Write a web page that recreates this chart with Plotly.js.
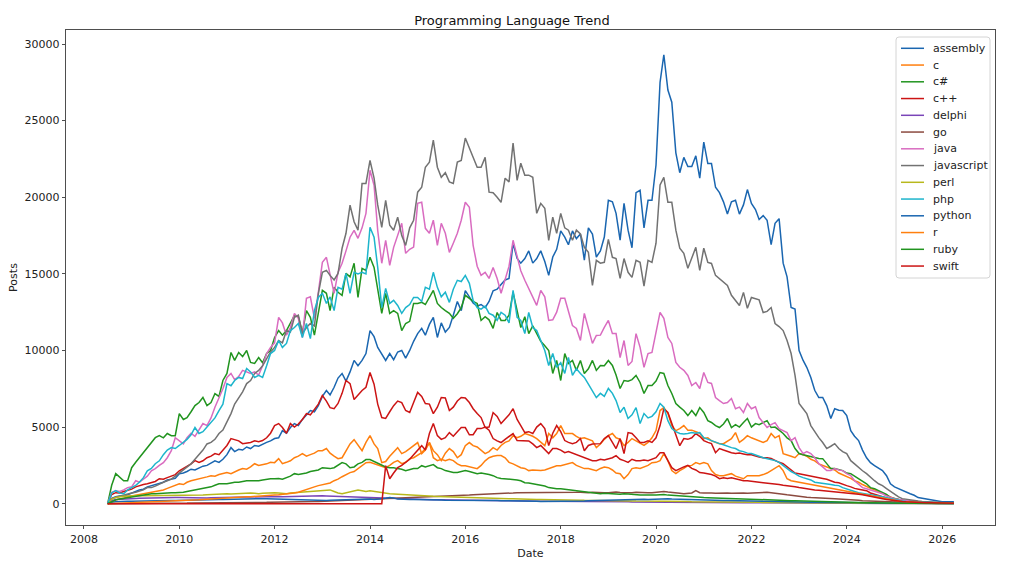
<!DOCTYPE html>
<html>
<head>
<meta charset="utf-8">
<script src="https://cdn.plot.ly/plotly-3.0.1.min.js"></script>
<style>
  html, body { margin: 0; padding: 0; background: #fff; }
  #chart { width: 1024px; height: 574px; }
</style>
</head>
<body>
<div id="chart"></div>
<script>
// monthly posts, Jul 2008 .. Apr 2026 (one line per year)
const languages = ['assembly', 'c', 'c#', 'c++', 'delphi', 'go', 'java', 'javascript',
                   'perl', 'php', 'python', 'r', 'ruby', 'swift'];

const assembly = [
  0, 350, 450, 500, 480, 600,
  700, 800, 900, 950, 1100, 1180, 1250, 1300, 1400, 1550, 1600, 1650,
  1960, 2000, 2100, 2250, 2200, 2350, 2450, 2500, 2650, 2800, 2700, 2900,
  3200, 3660, 3400, 3550, 3500, 3700, 3600, 3800, 3750, 3900, 4000, 4100,
  4250, 4300, 4770, 4600, 4970, 5230, 5100, 5500, 5800, 6080, 6000, 6400,
  7000, 7390, 7100, 7600, 8200, 8500, 8000, 8600, 9350, 9000, 9350, 9800,
  11300, 10900, 10200, 9800, 9350, 9800, 9400, 9900, 10000, 9500, 10000, 10600,
  11100, 11440, 11000, 11700, 12160, 10850, 11800, 11200, 11500, 12300, 13200, 12600,
  13900, 13500, 13100, 12900, 13000, 12800, 13200, 13900, 14000, 14300, 14600, 14700,
  17000, 16000, 15700, 16000, 16500, 15700, 16000, 16500, 15800, 14900, 16100, 16600,
  17800, 17400, 16900, 17800, 17300, 17600, 15900, 18000, 17600, 16100, 16500, 17400,
  19800, 19700, 18950, 17200, 19600, 17850, 16700, 20300, 20450, 18000, 19800, 19800,
  22100, 27500, 29300, 27000, 26200, 22900, 21600, 22600, 22000, 22000, 22700, 21250,
  23600, 22200, 22200, 20650, 20300, 19700, 18900, 19700, 19800, 18900, 19500, 20500,
  19600, 19200, 18550, 18800, 18500, 16900, 18300, 18600, 15700, 14800, 12800, 12700,
  10000, 9350, 8900, 8240, 7400, 6930, 6930, 6400, 5560, 6200, 6100, 6080,
  5750, 4770, 4400, 4120, 3500, 3000, 2680, 2480, 2300, 2160, 1830, 1300,
  1100, 980, 850, 720, 650, 550, 400, 350, 300, 260, 200, 150,
  130, 130, 120, 130
];

const c = [
  0, 150, 250, 300, 350, 450,
  500, 550, 600, 650, 700, 720, 800, 850, 900, 1000, 1100, 1200,
  1300, 1250, 1400, 1500, 1550, 1630, 1700, 1750, 1830, 1800, 1900, 1950,
  2030, 1960, 2100, 2200, 2300, 2250, 2400, 2610, 2500, 2550, 2600, 2700,
  2680, 2940, 2610, 2700, 2800, 3000, 3100, 3270, 3100, 3200, 3300, 3460,
  3460, 3600, 3300, 3100, 2940, 3000, 3400, 3900, 4180, 3800, 3460, 4000,
  4440, 3900, 3600, 2680, 2750, 3100, 3400, 3660, 3270, 3400, 3600, 3800,
  3990, 3270, 3500, 3990, 3460, 3200, 2810, 3300, 3600, 3400, 3000, 3200,
  3790, 3990, 3790, 3700, 3500, 3270, 3400, 3660, 3500, 3800, 4000, 4100,
  4440, 4310, 4400, 4580, 4500, 4400, 4250, 4000, 3790, 4580, 4300, 4580,
  5100, 4580, 4600, 4580, 4400, 4250, 4300, 4200, 4100, 3660, 3900, 4200,
  4440, 4580, 4300, 4200, 3790, 4000, 4250, 4100, 3920, 3800, 4000, 4300,
  4770, 6080, 6270, 5900, 5100, 4770, 4900, 5100, 4800, 4800, 4700, 4600,
  4250, 4300, 4100, 4000, 3920, 3920, 4100, 4250, 4640, 4000, 4200, 4440,
  4300, 4200, 4100, 4000, 4120, 4580, 4300, 4440, 3270, 3200, 3100, 3000,
  3270, 3200, 3100, 2900, 2800, 2600, 2500, 2400, 2300, 2200, 2000, 1900,
  1800, 1650, 1500, 1400, 1250, 1100, 1000, 900, 780, 650, 520, 420,
  330, 270, 220, 180, 150, 120, 100, 90, 80, 60, 50, 40,
  30, 30, 30, 30
];

const csharp = [
  0, 1200, 1960, 1700, 1500, 1500,
  2350, 2700, 3000, 3270, 3600, 4000, 4310, 4440, 4300, 4580, 4440, 4440,
  5880, 5500, 5620, 6000, 6400, 6600, 6930, 6400, 6600, 7190, 7000, 8040,
  8500, 9870, 9350, 9870, 9600, 10000, 9220, 9150, 9540, 9200, 9800, 10000,
  10850, 11300, 11000, 11300, 11830, 12290, 12200, 11180, 12600, 12160, 11000, 12420,
  13920, 13730, 12600, 14120, 13800, 13600, 15030, 14800, 15690, 13460, 15360, 15230,
  16080, 15420, 13920, 12420, 13730, 12420, 12600, 12420, 11300, 11760, 11900, 13070,
  13070, 13140, 13000, 13500, 13920, 13070, 12800, 12600, 12420, 12100, 12400, 12800,
  13600, 13400, 13200, 13070, 11960, 12200, 12000, 11440, 12480, 11960, 11960, 12300,
  13790, 12600, 11500, 12200, 11100, 11600, 11100, 10600, 10300, 10000, 8500, 9350,
  8040, 9800, 9150, 9350, 8700, 9350, 8500, 8800, 9350, 8700, 9020, 9000,
  9350, 9020, 8400, 7520, 8040, 8000, 8100, 8370, 7910, 7190, 7710, 7710,
  8000, 8560, 8500, 7710, 7190, 6540, 6300, 6080, 5750, 6080, 5750, 6270,
  5950, 5420, 5300, 5100, 4970, 5200, 5560, 4970, 5160, 5000, 5300, 5560,
  5000, 5230, 5160, 5300, 5420, 4970, 5000, 4800, 4580, 4300, 4120, 3600,
  3270, 3200, 3140, 3050, 3000, 2950, 2940, 2600, 2290, 2290, 2200, 2160,
  2000, 1960, 1800, 1630, 1450, 1300, 1050, 980, 850, 720, 600, 400,
  330, 280, 230, 200, 170, 150, 130, 110, 90, 80, 70, 60,
  50, 50, 40, 40
];

const cpp = [
  0, 600, 720, 700, 800, 850,
  950, 1100, 1180, 1250, 1300, 1370, 1450, 1630, 1600, 1700, 1800, 1900,
  2150, 2300, 2400, 2600, 2810, 2700, 2800, 3000, 3100, 3270, 3200, 3500,
  3800, 4250, 4200, 4100, 3920, 3950, 4000, 4100, 4050, 4120, 4300, 4600,
  5100, 5230, 4970, 4600, 5230, 5000, 5200, 5500, 5880, 5800, 6200, 6500,
  7060, 6700, 6270, 6200, 6540, 7200, 8040, 7840, 6800, 7100, 7390, 7600,
  8560, 7800, 6500, 5620, 5560, 6000, 6400, 6700, 6600, 6080, 5950, 6600,
  7260, 7000, 6540, 6500, 5880, 6300, 6930, 6900, 6080, 6300, 6700, 6930,
  6900, 6600, 6200, 5880, 5620, 4970, 5000, 5950, 5700, 5230, 5500, 5800,
  6200, 5500, 5100, 4640, 4700, 4580, 5000, 5230, 4900, 3790, 4600, 5100,
  4700, 4120, 4000, 3920, 4000, 4250, 3460, 3800, 3900, 3920, 3920, 4250,
  4440, 4000, 3600, 4250, 3270, 4640, 4580, 4300, 4000, 4000, 4100, 4000,
  4300, 5100, 6200, 5950, 5230, 4580, 3790, 4250, 4200, 4300, 4580, 4400,
  4120, 4000, 3920, 3330, 3600, 3500, 3400, 3330, 3270, 3300, 3250, 3200,
  3200, 3100, 3050, 3000, 3000, 2950, 2810, 2700, 2610, 2400, 2160, 2000,
  1960, 1900, 1850, 1800, 1750, 1700, 1650, 1600, 1500, 1400, 1370, 1300,
  1180, 1100, 1000, 950, 900, 850, 700, 600, 520, 450, 380, 300,
  200, 170, 150, 130, 110, 100, 90, 80, 70, 60, 50, 40,
  30, 30, 30, 30
];

const delphi = [
  0, 200, 280, 300, 320, 330,
  330, 340, 350, 360, 370, 380, 380, 390, 390, 400, 400, 400,
  400, 390, 400, 390, 390, 400, 390, 380, 390, 400, 410, 400,
  400, 410, 420, 420, 430, 440, 440, 450, 440, 450, 460, 460,
  460, 470, 460, 470, 480, 470, 480, 490, 500, 510, 520, 510,
  520, 510, 500, 480, 470, 460, 450, 440, 430, 440, 420, 410,
  400, 390, 380, 360, 350, 340, 330, 320, 310, 300, 300, 290,
  280, 280, 270, 270, 260, 260, 250, 250, 240, 240, 230, 230,
  220, 220, 220, 210, 210, 210, 200, 200, 200, 190, 190, 190,
  180, 180, 180, 170, 170, 170, 170, 160, 160, 160, 160, 150,
  150, 150, 150, 140, 140, 140, 140, 140, 130, 130, 130, 130,
  130, 120, 120, 120, 120, 120, 110, 110, 110, 110, 110, 100,
  100, 110, 110, 100, 100, 100, 90, 90, 90, 90, 90, 90,
  80, 80, 80, 80, 80, 70, 70, 70, 70, 70, 70, 60,
  60, 60, 60, 60, 60, 50, 50, 50, 50, 50, 50, 50,
  40, 40, 40, 40, 40, 40, 40, 30, 30, 30, 30, 30,
  30, 30, 30, 20, 20, 20, 20, 20, 20, 20, 20, 20,
  10, 10, 10, 10, 10, 10, 10, 10, 10, 10, 10, 10,
  10, 10, 10, 10
];

const go = [
  0, 0, 0, 0, 0, 0,
  0, 0, 0, 0, 0, 0, 0, 0, 0, 0, 20, 40,
  40, 40, 40, 50, 50, 50, 50, 60, 60, 60, 60, 70,
  70, 70, 70, 80, 80, 80, 80, 90, 90, 90, 90, 100,
  100, 100, 110, 110, 110, 120, 120, 120, 130, 130, 140, 150,
  160, 170, 180, 190, 200, 210, 220, 230, 240, 250, 260, 280,
  300, 310, 320, 330, 340, 350, 360, 370, 380, 390, 400, 410,
  420, 430, 440, 450, 460, 470, 480, 490, 500, 500, 510, 520,
  540, 560, 580, 590, 590, 600, 600, 620, 640, 650, 660, 680,
  700, 720, 720, 700, 720, 740, 720, 730, 720, 720, 740, 720,
  730, 720, 710, 720, 740, 750, 730, 720, 740, 720, 730, 720,
  720, 740, 760, 730, 720, 700, 720, 740, 720, 700, 720, 720,
  740, 780, 800, 760, 720, 700, 680, 650, 680, 700, 850, 720,
  700, 720, 700, 680, 700, 720, 700, 680, 700, 720, 700, 680,
  700, 720, 700, 720, 750, 720, 700, 650, 620, 580, 540, 500,
  460, 440, 420, 400, 380, 370, 350, 340, 330, 320, 310, 300,
  280, 260, 240, 220, 200, 190, 170, 150, 130, 110, 100, 90,
  80, 70, 60, 50, 50, 40, 40, 30, 30, 30, 20, 20,
  20, 20, 20, 20
];

const java = [
  0, 750, 850, 800, 900, 1050,
  1100, 1500, 1400, 1600, 1800, 2150, 2290, 2500, 2680, 3000, 3460, 4310,
  4100, 3900, 4300, 4600, 4400, 4800, 5230, 5100, 5600, 6300, 6900, 7500,
  8240, 8500, 8100, 8300, 8700, 8600, 8500, 8600, 8400, 9000, 9800, 10200,
  10500, 12160, 11800, 11000, 11500, 12420, 12100, 10850, 13400, 13500, 12100, 13800,
  15750, 16080, 15030, 13730, 15100, 15690, 16500, 17390, 17840, 17320, 18000, 18950,
  21760, 20780, 17840, 15690, 17190, 15560, 16730, 17500, 18300, 16340, 16600, 16750,
  19600, 19670, 17970, 17650, 18500, 16860, 18300, 17650, 16400, 17000, 17650, 18500,
  19670, 19350, 16860, 15500, 14900, 15100, 14700, 15420, 14700, 13730, 14580, 15500,
  17190, 16080, 15200, 14580, 14050, 13500, 12940, 13920, 13500, 11960, 12000, 12500,
  13400, 13400, 12500, 11630, 11440, 10650, 12420, 11500, 10460, 10980, 11000, 11500,
  11960, 11100, 11100, 9540, 10650, 9020, 9280, 11100, 10200, 8900, 9800, 9870,
  11300, 12480, 12100, 10850, 10460, 9220, 8900, 8700, 8370, 7710, 7910, 7520,
  8560, 7910, 7850, 6930, 6730, 6540, 6600, 6860, 6200, 6300, 5950, 6540,
  6200, 6330, 5620, 5290, 4970, 5160, 5290, 4900, 4770, 4640, 4120, 4310,
  3660, 3270, 3400, 3270, 3000, 2610, 2400, 2160, 2160, 2290, 2200, 2160,
  1960, 1830, 1500, 1300, 1050, 980, 900, 850, 720, 650, 500, 400,
  330, 280, 230, 200, 170, 150, 120, 100, 90, 80, 60, 50,
  40, 40, 30, 30
];

const javascript = [
  0, 300, 420, 500, 550, 650,
  700, 750, 800, 900, 1050, 1050, 1150, 1300, 1400, 1500, 1600, 1800,
  2000, 2200, 2350, 2600, 2900, 3200, 3500, 3900, 4000, 4200, 4580, 4800,
  5300, 5880, 6500, 6930, 7300, 7840, 8040, 8500, 8700, 9000, 9500, 9900,
  10200, 10650, 10500, 11300, 11200, 12160, 12300, 11100, 11500, 11760, 11600, 13700,
  15100, 15230, 14900, 14600, 15030, 16670, 17650, 19480, 18400, 17850, 20900, 20900,
  22400, 21250, 19500, 18040, 19800, 18170, 17850, 18700, 17500, 16860, 18000, 18500,
  20330, 20650, 21960, 22290, 23730, 21960, 21300, 21600, 21000, 20900, 22290, 22400,
  23860, 23200, 22550, 21960, 21960, 22600, 20330, 20300, 20000, 19670, 21240, 21000,
  23530, 21100, 22220, 21440, 21440, 21300, 18950, 19600, 19280, 17190, 18700, 17650,
  18950, 18000, 17850, 17190, 17850, 17600, 16730, 16400, 14250, 15880, 15700, 15750,
  17250, 16080, 16000, 14700, 16000, 15100, 14770, 15880, 15750, 14200, 15880, 15750,
  17000, 20800, 21300, 19670, 19670, 17850, 16670, 16340, 15360, 16080, 16730, 15230,
  16670, 15750, 15680, 14900, 14700, 14500, 14250, 13600, 13270, 12940, 13790, 12750,
  13460, 13400, 13300, 12480, 12550, 12800, 11760, 11560, 11300, 10650, 9800, 8370,
  6540, 6200, 5880, 5100, 4700, 4310, 3990, 3600, 3750, 3920, 3600, 3400,
  3270, 2810, 2600, 2350, 2150, 1960, 1700, 1500, 1300, 1180, 980, 800,
  590, 450, 330, 280, 230, 200, 170, 140, 120, 100, 90, 80,
  70, 60, 60, 60
];

const perl = [
  0, 300, 400, 450, 480, 500,
  520, 520, 530, 520, 520, 530, 520, 530, 520, 520, 530, 520,
  520, 530, 540, 520, 540, 560, 560, 580, 600, 620, 650, 620,
  650, 640, 660, 680, 700, 720, 700, 680, 650, 680, 700, 720,
  720, 700, 680, 650, 700, 720, 740, 760, 780, 800, 820, 850,
  850, 880, 900, 800, 700, 650, 700, 760, 850, 900, 850, 800,
  850, 800, 750, 700, 650, 650, 640, 620, 600, 580, 560, 540,
  520, 520, 500, 500, 480, 470, 460, 450, 440, 430, 420, 400,
  400, 390, 390, 380, 370, 360, 350, 350, 340, 330, 330, 320,
  320, 320, 310, 300, 300, 290, 280, 270, 270, 260, 260, 260,
  250, 250, 240, 240, 230, 230, 220, 220, 210, 210, 200, 200,
  200, 200, 190, 190, 190, 180, 180, 170, 170, 170, 160, 160,
  160, 170, 180, 160, 150, 150, 140, 140, 140, 130, 130, 130,
  130, 120, 120, 120, 110, 110, 110, 100, 100, 100, 100, 90,
  90, 90, 90, 80, 80, 80, 80, 70, 70, 70, 70, 60,
  60, 60, 60, 50, 50, 50, 50, 50, 40, 40, 40, 40,
  40, 40, 30, 30, 30, 30, 30, 30, 20, 20, 20, 20,
  20, 20, 20, 20, 10, 10, 10, 10, 10, 10, 10, 10,
  10, 10, 10, 10
];

const php = [
  0, 700, 850, 700, 650, 900,
  1050, 1200, 1400, 1700, 2150, 2300, 2610, 2800, 3200, 3500, 3660, 3600,
  3800, 4000, 4200, 4500, 4970, 4580, 4700, 5000, 5300, 5600, 6080, 6500,
  7840, 7700, 8040, 8240, 8170, 8820, 8600, 8240, 8370, 8240, 9000, 9800,
  10000, 10650, 10200, 10460, 11300, 11500, 11760, 10850, 11760, 10780, 12600, 13460,
  13730, 13070, 13500, 12600, 14120, 14000, 15030, 13730, 15100, 15000, 15100, 15000,
  18040, 17390, 15420, 12800, 14050, 13070, 13270, 12940, 12420, 12800, 13000, 13460,
  13460, 13200, 14120, 14000, 15100, 14120, 13500, 13800, 13140, 14000, 14580, 14500,
  14900, 14380, 13270, 12800, 12700, 12900, 12420, 12300, 11960, 12480, 12300, 11800,
  13920, 12160, 11960, 11100, 12480, 11500, 11300, 10650, 10000, 9020, 9800, 8900,
  9200, 8500, 9540, 8370, 8800, 8500, 8240, 7800, 7400, 6930, 7200, 7000,
  7520, 7200, 6730, 5950, 6300, 5560, 5800, 6270, 5230, 5880, 5600, 5700,
  6000, 6540, 6300, 5420, 4900, 4700, 4580, 4550, 4580, 4640, 4600, 4640,
  4310, 4200, 4120, 4000, 3920, 3850, 3750, 3660, 3600, 3460, 3400, 3300,
  3270, 3200, 3100, 3000, 2950, 2900, 2810, 2700, 2480, 2300, 2100, 1960,
  1800, 1700, 1630, 1550, 1400, 1370, 1330, 1300, 1250, 1200, 1180, 1050,
  980, 900, 800, 720, 680, 650, 600, 550, 520, 450, 390, 330,
  250, 200, 170, 140, 120, 100, 90, 80, 70, 60, 50, 40,
  40, 30, 30, 30
];

const python = [
  0, 100, 130, 150, 150, 160,
  160, 170, 170, 180, 180, 190, 190, 200, 200, 200, 210, 210,
  220, 230, 240, 250, 260, 260, 270, 260, 270, 280, 280, 270,
  280, 290, 290, 300, 310, 300, 320, 330, 320, 330, 320, 310,
  300, 290, 280, 270, 260, 250, 240, 230, 220, 210, 200, 200,
  200, 210, 220, 230, 240, 250, 260, 270, 280, 290, 300, 320,
  300, 280, 290, 310, 350, 400, 380, 300, 280, 260, 270, 280,
  280, 270, 260, 250, 250, 240, 240, 230, 230, 220, 220, 210,
  210, 220, 230, 240, 250, 240, 230, 220, 210, 200, 200, 190,
  190, 180, 180, 170, 170, 160, 160, 150, 150, 150, 140, 140,
  140, 140, 150, 150, 160, 170, 180, 190, 200, 210, 220, 230,
  240, 250, 260, 270, 260, 250, 260, 270, 280, 290, 280, 290,
  300, 330, 350, 320, 300, 290, 280, 270, 260, 250, 250, 240,
  240, 230, 230, 220, 220, 210, 210, 200, 200, 190, 190, 180,
  180, 170, 170, 160, 160, 150, 150, 140, 140, 130, 130, 120,
  120, 110, 110, 100, 100, 100, 90, 90, 90, 80, 80, 80,
  70, 70, 70, 60, 60, 60, 50, 50, 50, 40, 40, 40,
  30, 30, 30, 30, 20, 20, 20, 20, 20, 20, 10, 10,
  10, 10, 10, 10
];

const r = [
  0, 10, 20, 30, 40, 50,
  60, 70, 80, 90, 100, 110, 120, 130, 140, 150, 160, 170,
  190, 200, 210, 230, 250, 260, 280, 300, 320, 330, 350, 370,
  390, 400, 410, 420, 440, 450, 460, 470, 480, 500, 520, 540,
  560, 580, 600, 620, 650, 700, 750, 850, 900, 1000, 1100, 1180,
  1250, 1300, 1350, 1500, 1600, 1760, 1900, 2030, 2100, 2300, 2500, 2680,
  2700, 2600, 2500, 2400, 2350, 2500, 2700, 2810, 2610, 2700, 2940, 3000,
  3140, 3330, 3600, 3990, 3000, 2810, 2900, 2800, 2900, 2810, 2600, 2480,
  2480, 2400, 2350, 2290, 2500, 2800, 3000, 3100, 3140, 3140, 3000, 2700,
  2600, 2450, 2350, 2300, 2160, 2200, 2160, 2160, 2200, 2300, 2400, 2480,
  2480, 2550, 2600, 2680, 2500, 2400, 2290, 2300, 2250, 2160, 2300, 2400,
  2350, 2200, 2000, 1960, 1630, 1900, 2290, 2350, 2300, 2400, 2500, 2680,
  2700, 2810, 3270, 2810, 2160, 1960, 2160, 2300, 2480, 2500, 2680, 2600,
  2680, 2600, 2160, 1900, 1830, 1830, 1900, 1960, 1800, 1700, 1630, 1830,
  1830, 1800, 1830, 1900, 2000, 2160, 2300, 2480, 2160, 1630, 1500, 1450,
  1400, 1350, 1300, 1250, 1200, 1150, 1100, 1050, 1000, 950, 900, 850,
  800, 750, 700, 650, 600, 550, 500, 450, 400, 330, 280, 230,
  200, 170, 150, 130, 110, 100, 90, 80, 70, 60, 50, 40,
  30, 30, 30, 30
];

const ruby = [
  0, 150, 250, 300, 350, 390,
  420, 450, 500, 550, 600, 650, 650, 680, 700, 720, 720, 720,
  720, 750, 800, 850, 900, 980, 1000, 1050, 1100, 1200, 1300, 1300,
  1300, 1350, 1400, 1400, 1450, 1500, 1500, 1480, 1500, 1550, 1600, 1630,
  1630, 1650, 1600, 1700, 1800, 1960, 1900, 1960, 2000, 2100, 2160, 2200,
  2350, 2300, 2290, 2350, 2500, 2680, 2600, 2350, 2400, 2600, 2700, 2880,
  2880, 2750, 2610, 2500, 2400, 2350, 2350, 2290, 2250, 2160, 2250, 2300,
  2290, 2480, 2400, 2480, 2550, 2350, 2290, 2160, 2100, 2040, 2030, 2100,
  2160, 2100, 2050, 1960, 2000, 1960, 1900, 1830, 1700, 1650, 1630, 1630,
  1600, 1550, 1500, 1370, 1350, 1300, 1250, 1200, 1150, 1050, 1000, 980,
  980, 950, 900, 850, 850, 820, 800, 780, 750, 700, 650, 680,
  650, 650, 640, 620, 650, 630, 600, 580, 560, 560, 550, 540,
  560, 580, 600, 560, 540, 500, 480, 460, 440, 420, 400, 420,
  400, 390, 380, 370, 360, 350, 340, 330, 330, 320, 320, 310,
  300, 290, 280, 270, 260, 250, 240, 230, 220, 210, 200, 200,
  190, 180, 170, 160, 150, 150, 140, 130, 120, 110, 110, 100,
  100, 90, 90, 80, 80, 70, 70, 60, 60, 50, 50, 40,
  40, 40, 30, 30, 30, 30, 20, 20, 20, 20, 20, 20,
  10, 10, 10, 10
];

const swift = [
  0, 0, 0, 0, 0, 0,
  0, 0, 0, 0, 0, 0, 0, 0, 0, 0, 0, 0,
  0, 0, 0, 0, 0, 0, 0, 0, 0, 0, 0, 0,
  0, 0, 0, 0, 0, 0, 0, 0, 0, 0, 0, 0,
  0, 0, 0, 0, 0, 0, 0, 0, 0, 0, 0, 0,
  0, 0, 0, 0, 0, 0, 0, 0, 0, 0, 0, 0,
  0, 0, 0, 0, 2480, 1630, 2000, 2350, 2500, 2680, 2900, 3200,
  3460, 3790, 3500, 4580, 5230, 4440, 4200, 4310, 4640, 4400, 4700, 4970,
  4970, 4500, 4500, 4900, 4900, 5000, 4800, 4250, 4100, 3990, 4200, 4400,
  4580, 4120, 4100, 4100, 4100, 3900, 3660, 3800, 3500, 3270, 3600, 3600,
  3500, 3330, 3400, 3300, 3200, 3100, 3000, 2900, 2810, 2810, 2900, 2850,
  2940, 3000, 3140, 2900, 2810, 2700, 2900, 2810, 2800, 2850, 2810, 2900,
  3000, 3330, 3330, 2810, 2350, 2160, 2290, 2400, 2500, 2300, 2200, 2030,
  2000, 1960, 1900, 1800, 1630, 1700, 1650, 1700, 1630, 1600, 1500, 1500,
  1450, 1450, 1400, 1370, 1350, 1300, 1300, 1250, 1200, 1180, 1150, 1100,
  1050, 1000, 980, 950, 900, 870, 850, 820, 800, 780, 750, 720,
  700, 680, 650, 620, 580, 520, 470, 420, 380, 330, 280, 240,
  200, 170, 150, 130, 110, 100, 90, 80, 70, 60, 50, 40,
  40, 30, 30, 30
];

const seriesValues = [assembly, c, csharp, cpp, delphi, go, java, javascript,
                      perl, php, python, r, ruby, swift];

const lineColors = ['#1a66b0', '#ff7f0e', '#21941f', '#cc1414', '#7a45b8', '#8b4a3f', '#d96cc0',
                    '#727272', '#b8b81c', '#1db5cc', '#1a66b0', '#ff7f0e', '#21941f', '#cc1414'];

// month axis: first of each month from Jul 2008
const months = [];
for (let i = 0; i < 214; i++) {
  const y = 2008 + Math.floor((6 + i) / 12);
  const m = (6 + i) % 12 + 1;
  months.push(y + '-' + String(m).padStart(2, '0') + '-01');
}

const traces = languages.map((name, i) => ({
  x: months,
  y: seriesValues[i],
  name: name,
  type: 'scatter',
  mode: 'lines',
  line: { color: lineColors[i], width: 1.5 },
  showlegend: false
}));

// plot box in pixels (matches the margins below)
const W = 1024, H = 574;
const M = { l: 66, r: 29, t: 30, b: 49 };
const plotW = W - M.l - M.r, plotH = H - M.t - M.b;
const px = v => (v - M.l) / plotW;
const py = v => 1 - (v - M.t) / plotH;

// matplotlib-style legend: compact rows, rounded frame
const legendShapes = [];
const legendNotes = [];
const lx0 = 896, lx1 = 990, ly0 = 37, ly1 = 278, rad = 3;
legendShapes.push({
  type: 'path', xref: 'paper', yref: 'paper', layer: 'above',
  path: 'M ' + px(lx0 + rad) + ' ' + py(ly0) +
        ' L ' + px(lx1 - rad) + ' ' + py(ly0) +
        ' Q ' + px(lx1) + ' ' + py(ly0) + ' ' + px(lx1) + ' ' + py(ly0 + rad) +
        ' L ' + px(lx1) + ' ' + py(ly1 - rad) +
        ' Q ' + px(lx1) + ' ' + py(ly1) + ' ' + px(lx1 - rad) + ' ' + py(ly1) +
        ' L ' + px(lx0 + rad) + ' ' + py(ly1) +
        ' Q ' + px(lx0) + ' ' + py(ly1) + ' ' + px(lx0) + ' ' + py(ly1 - rad) +
        ' L ' + px(lx0) + ' ' + py(ly0 + rad) +
        ' Q ' + px(lx0) + ' ' + py(ly0) + ' ' + px(lx0 + rad) + ' ' + py(ly0) + ' Z',
  fillcolor: 'rgba(255,255,255,0.85)',
  line: { color: '#d4d4d4', width: 1 }
});
languages.forEach((name, i) => {
  const rowY = 48.3 + i * 16.75;
  legendShapes.push({
    type: 'line', xref: 'paper', yref: 'paper', layer: 'above',
    x0: px(901), x1: px(924), y0: py(rowY), y1: py(rowY),
    line: { color: lineColors[i], width: 1.5 }
  });
  legendNotes.push({
    xref: 'paper', yref: 'paper', x: px(931), y: py(rowY),
    xanchor: 'left', yanchor: 'middle', showarrow: false,
    text: name, font: { size: 11, color: '#222' }
  });
});

const font = 'DejaVu Sans, sans-serif';

Plotly.newPlot('chart', traces, {
  width: W,
  height: H,
  paper_bgcolor: '#fff',
  plot_bgcolor: '#fff',
  margin: M,
  font: { family: font, size: 11, color: '#222' },
  title: {
    text: 'Programming Language Trend',
    font: { family: font, size: 13, color: '#111' },
    x: 0.5, xanchor: 'center', y: 0.965, yanchor: 'middle', yref: 'container'
  },
  xaxis: {
    type: 'date',
    range: ['2007-08-17', '2027-02-10'],
    tick0: '2008-01-01',
    dtick: 'M24',
    tickformat: '%Y',
    ticks: 'outside', ticklen: 3.5, tickwidth: 0.8, tickcolor: '#222',
    showline: true, mirror: true, linecolor: '#222', linewidth: 0.8,
    showgrid: false, zeroline: false,
    title: { text: 'Date', font: { size: 11 }, standoff: 4 }
  },
  yaxis: {
    range: [-1390, 30914],
    dtick: 5000,
    tick0: 0,
    tickformat: 'd',
    ticks: 'outside', ticklen: 3.5, tickwidth: 0.8, tickcolor: '#222',
    showline: true, mirror: true, linecolor: '#222', linewidth: 0.8,
    showgrid: false, zeroline: false,
    title: { text: 'Posts', font: { size: 11 }, standoff: 4 }
  },
  showlegend: false,
  shapes: legendShapes,
  annotations: legendNotes
}, { displayModeBar: false, staticPlot: true });

seriesValues.forEach((v, i) => {
  if (v.length !== months.length) {
    throw new Error(languages[i] + ' has ' + v.length + ' values, expected ' + months.length);
  }
});
</script>
</body>
</html>
